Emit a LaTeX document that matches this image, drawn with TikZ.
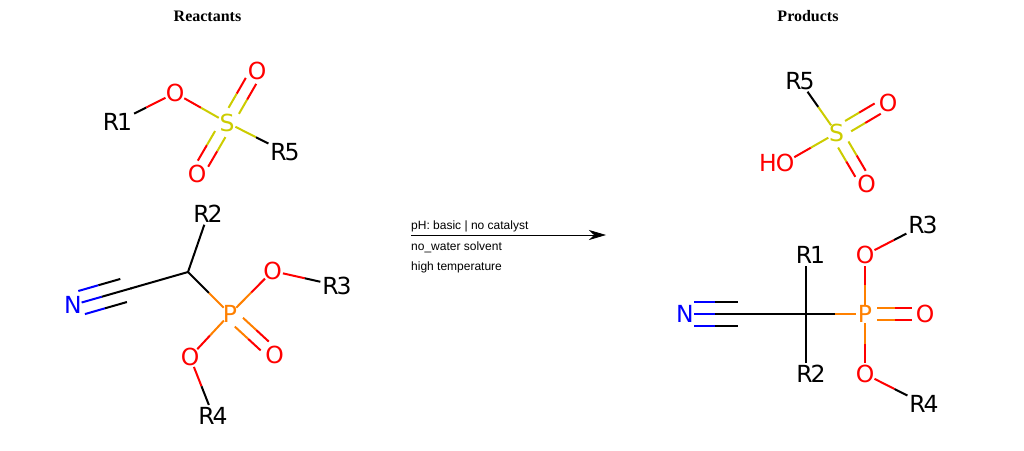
\documentclass[tikz,border=0pt]{standalone}
\usepackage{fontspec}
\setmainfont{DejaVu Sans}
\newfontfamily\titlefont{Liberation Serif}
\newfontfamily\condfont{Liberation Sans}
\usetikzlibrary{calc,arrows.meta}

\definecolor{oxred}{RGB}{255,0,0}
\definecolor{sulfur}{RGB}{204,204,0}
\definecolor{phos}{RGB}{255,128,0}
\definecolor{nitro}{RGB}{0,0,255}

\tikzset{
    atom/.style={circle, inner sep=-1.5pt, outer sep=0pt, font=\fontsize{23.5}{23.5}\selectfont},
    rgroup/.style={rectangle, inner sep=1pt, outer sep=1pt, font=\fontsize{23.5}{23.5}\selectfont},
    heading/.style={font=\titlefont\bfseries\fontsize{16}{16}\selectfont},
    cond/.style={anchor=west, inner sep=0pt, font=\condfont\fontsize{12}{12}\selectfont},
    bondline/.style={line width=2pt}
}

% Tight R group label
\newcommand{\rlabel}[1]{R\kern-2pt #1}
% Two coloured single bond, the colour changes half way
\newcommand{\bond}[4]{
    \draw[bondline,#3] (#1) -- ($(#1)!.5!(#2)$);
    \draw[bondline,#4] ($(#1)!.5!(#2)$) -- (#2);
}
% Offset line of a double or triple bond: a, b, offset, from, to
\newcommand{\sideline}[7]{
    \draw[bondline,#6] ($(#1)!#4!(#2)!#3!90:(#2)$) -- ($(#1)!.5!(#2)!#3!90:(#2)$);
    \draw[bondline,#7] ($(#1)!.5!(#2)!#3!90:(#2)$) -- ($(#1)!#5!(#2)!#3!90:(#2)$);
}

\begin{document}
\begin{tikzpicture}[x=1pt,y=-1pt]

    \useasboundingbox (0,0) rectangle (1024,450);

    % Headings
    \node[heading] (reactants) at (207.5,16.5) {Reactants};
    \node[heading] (products) at (808,16.5) {Products};

    % Reactant sulfonate
    \node[rgroup] (Ra1) at (117.5,122) {\rlabel{1}};
    \node[atom,text=oxred] (Oa) at (175,93) {O};
    \node[atom,text=sulfur] (Sa) at (227,122.5) {S};
    \node[atom,text=oxred] (Oa2) at (257,70.5) {O};
    \node[atom,text=oxred] (Oa3) at (197,174) {O};
    \node[rgroup] (Ra5) at (285,152) {\rlabel{5}};

    \bond{Ra1}{Oa}{black}{oxred}
    \bond{Oa}{Sa}{oxred}{sulfur}
    \bond{Sa}{Ra5}{sulfur}{black}
    \sideline{Sa}{Oa2}{6pt}{.225}{.8}{sulfur}{oxred}
    \sideline{Sa}{Oa2}{-6pt}{.225}{.8}{sulfur}{oxred}
    \sideline{Sa}{Oa3}{6pt}{.225}{.8}{sulfur}{oxred}
    \sideline{Sa}{Oa3}{-6pt}{.225}{.8}{sulfur}{oxred}

    % Reactant phosphonate
    \node[atom,text=nitro] (Nb) at (73,305) {N};
    \coordinate (Cb) at (130.5,288.5);
    \coordinate (Hb) at (188,272);
    \node[rgroup] (Rb2) at (208,214) {\rlabel{2}};
    \node[atom,text=phos] (Pb) at (230,314) {P};
    \node[atom,text=oxred] (Ob3) at (272.5,271) {O};
    \node[rgroup] (Rb3) at (337,285.5) {\rlabel{3}};
    \node[atom,text=oxred] (Ob) at (274.5,355) {O};
    \node[atom,text=oxred] (Ob4) at (190,357) {O};
    \node[rgroup] (Rb4) at (213,415.5) {\rlabel{4}};

    \sideline{Nb}{Cb}{0pt}{.15}{1.02}{nitro}{black}
    \sideline{Nb}{Cb}{12pt}{.15}{.88}{nitro}{black}
    \sideline{Nb}{Cb}{-12pt}{.15}{.88}{nitro}{black}
    \draw[bondline] (Cb) -- (Hb);
    \draw[bondline] (Hb) -- (Rb2);
    \bond{Hb}{Pb}{black}{phos}
    \bond{Pb}{Ob3}{phos}{oxred}
    \bond{Ob3}{Rb3}{oxred}{black}
    \bond{Pb}{Ob4}{phos}{oxred}
    \bond{Ob4}{Rb4}{oxred}{black}
    \sideline{Pb}{Ob}{6pt}{.2}{.78}{phos}{oxred}
    \sideline{Pb}{Ob}{-6pt}{.2}{.78}{phos}{oxred}

    % Reaction arrow and conditions
    \coordinate (arrowstart) at (411,235);
    \coordinate (arrowend) at (606,235);
    \draw[line width=0.8pt,-{Stealth[length=17pt,width=10pt,inset=5pt]}] (arrowstart) -- (arrowend);
    \node[cond] (ph) at (411,226) {pH: basic | no catalyst};
    \node[cond] (solvent) at (411,247) {no\_water solvent};
    \node[cond] (temp) at (411,267) {high temperature};

    % Product sulfonic acid
    \node[rgroup] (Rc5) at (800,81) {\rlabel{5}};
    \node[atom,text=sulfur] (Sc) at (836.5,133) {S};
    \node[atom,text=oxred] (Oc) at (888,102.5) {O};
    \node[atom,text=oxred] (Oc2) at (866.5,184) {O};
    \node[atom,text=oxred] (Oc3) at (785,162.5) {\llap{H\kern-1pt}O};

    \bond{Rc5}{Sc}{black}{sulfur}
    \bond{Sc}{Oc3}{sulfur}{oxred}
    \sideline{Sc}{Oc}{6pt}{.225}{.8}{sulfur}{oxred}
    \sideline{Sc}{Oc}{-6pt}{.225}{.8}{sulfur}{oxred}
    \sideline{Sc}{Oc2}{6pt}{.225}{.8}{sulfur}{oxred}
    \sideline{Sc}{Oc2}{-6pt}{.225}{.8}{sulfur}{oxred}

    % Product phosphonate
    \node[atom,text=nitro] (Nd) at (685,314) {N};
    \coordinate (Cd) at (745,314);
    \coordinate (Qd) at (805.5,314);
    \node[rgroup] (Rd1) at (810.5,255) {\rlabel{1}};
    \node[rgroup] (Rd2) at (811,374) {\rlabel{2}};
    \node[atom,text=phos] (Pd) at (865,314) {P};
    \node[atom,text=oxred] (Od3) at (865,255) {O};
    \node[atom,text=oxred] (Od4) at (865,374) {O};
    \node[atom,text=oxred] (Od) at (925,314) {O};
    \node[rgroup] (Rd3) at (923,225) {\rlabel{3}};
    \node[rgroup] (Rd4) at (924,404) {\rlabel{4}};

    \sideline{Nd}{Cd}{0pt}{.15}{1.02}{nitro}{black}
    \sideline{Nd}{Cd}{12pt}{.15}{.88}{nitro}{black}
    \sideline{Nd}{Cd}{-12pt}{.15}{.88}{nitro}{black}
    \draw[bondline] (Cd) -- (Qd);
    \draw[bondline] (Qd) -- (Qd |- Rd1.south);
    \draw[bondline] (Qd) -- (Qd |- Rd2.north);
    \bond{Qd}{Pd}{black}{phos}
    \bond{Pd}{Od3}{phos}{oxred}
    \bond{Pd}{Od4}{phos}{oxred}
    \bond{Od3}{Rd3}{oxred}{black}
    \bond{Od4}{Rd4}{oxred}{black}
    \sideline{Pd}{Od}{6pt}{.2}{.78}{phos}{oxred}
    \sideline{Pd}{Od}{-6pt}{.2}{.78}{phos}{oxred}

\end{tikzpicture}
\end{document}
